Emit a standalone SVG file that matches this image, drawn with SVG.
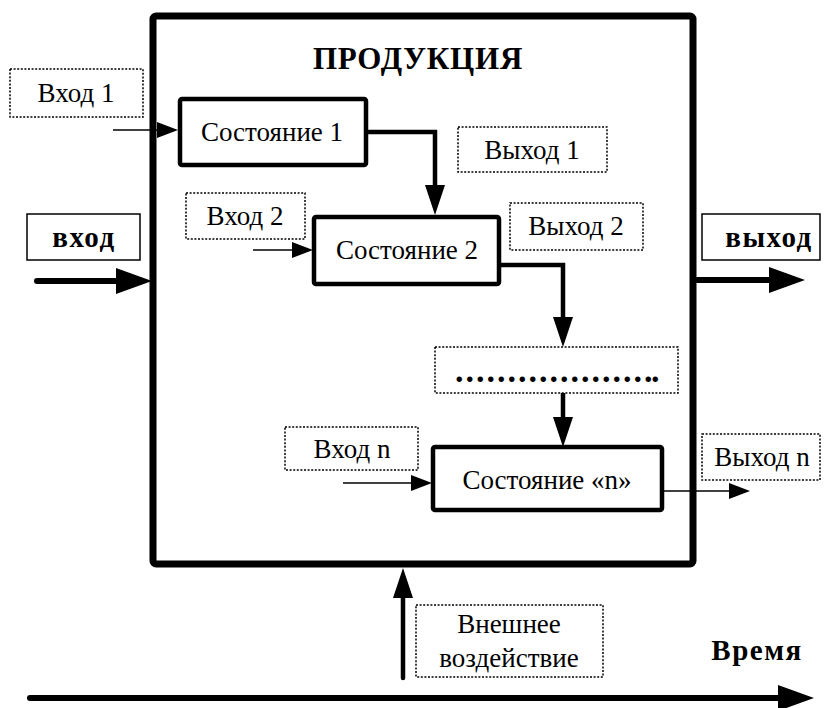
<svg xmlns="http://www.w3.org/2000/svg" width="824" height="708" viewBox="0 0 824 708">
  <style>
    text { font-family: 'Liberation Serif', 'Times New Roman', Tinos, 'DejaVu Serif', serif; font-size: 27px; fill: #000; text-anchor: middle; }
    .bold { font-weight: bold; font-size: 29px; letter-spacing: 1.5px; }
    .dotted { fill: #fff; stroke: #000; stroke-width: 1.5; stroke-dasharray: 2 1.6; }
    .solid { fill: #fff; stroke: #000; stroke-width: 1.5; }
    .state { fill: #fff; stroke: #000; stroke-width: 4.5; }
    .thin { fill: none; stroke: #000; stroke-width: 1.6; }
    .med { fill: none; stroke: #000; stroke-width: 4.5; }
    .heavy { fill: none; stroke: #000; stroke-width: 6; stroke-linecap: round; }
  </style>
  <defs>
    <marker id="headThin" viewBox="0 -8 21 16" markerWidth="21" markerHeight="16" refX="0" refY="0" markerUnits="userSpaceOnUse" orient="auto">
      <path d="M0,-8 L21,0 L0,8 z" fill="#000"/>
    </marker>
    <marker id="headMed" viewBox="0 -10 30 20" markerWidth="30" markerHeight="20" refX="0" refY="0" markerUnits="userSpaceOnUse" orient="auto">
      <path d="M0,-10 L30,0 L0,10 z" fill="#000"/>
    </marker>
    <marker id="headBig" viewBox="0 -13 36 26" markerWidth="36" markerHeight="26" refX="0" refY="0" markerUnits="userSpaceOnUse" orient="auto">
      <path d="M0,-13 L36,0 L0,13 z" fill="#000"/>
    </marker>
  </defs>

  <rect width="824" height="708" fill="#fff"/>

  <!-- outer process frame -->
  <g id="production">
    <rect x="153" y="16" width="540" height="548" rx="3" fill="none" stroke="#000" stroke-width="7"/>
    <text class="bold" x="418" y="69" style="font-size:31px;letter-spacing:0.8px">ПРОДУКЦИЯ</text>
  </g>

  <!-- external input / output labels -->
  <g id="input-main">
    <rect class="solid" x="27" y="214" width="113" height="46"/>
    <text class="bold" x="84" y="247">вход</text>
  </g>
  <g id="output-main">
    <rect class="solid" x="702" y="214" width="118" height="46"/>
    <text class="bold" x="769" y="247">выход</text>
  </g>

  <!-- states -->
  <g id="state-1">
    <rect class="state" x="180" y="99" width="186" height="66" rx="2"/>
    <text x="272" y="141">Состояние 1</text>
  </g>
  <g id="state-2">
    <rect class="state" x="314" y="217" width="185" height="67" rx="2"/>
    <text x="407" y="259">Состояние 2</text>
  </g>
  <g id="state-more">
    <rect class="dotted" x="435" y="347" width="243" height="46"/>
    <text x="455" y="382" style="font-weight:bold;font-size:34px;text-anchor:start;letter-spacing:2px">..................<tspan style="letter-spacing:-1.5px">..</tspan></text>
  </g>
  <g id="state-n">
    <rect class="state" x="433" y="447" width="229" height="63" rx="2"/>
    <text x="547" y="489">Состояние «n»</text>
  </g>

  <!-- per-state inputs and outputs -->
  <g id="in-1">
    <rect class="dotted" x="10" y="69" width="133" height="48"/>
    <text x="76" y="102">Вход 1</text>
  </g>
  <g id="out-1">
    <rect class="dotted" x="458" y="127" width="149" height="45"/>
    <text x="532" y="159">Выход 1</text>
  </g>
  <g id="in-2">
    <rect class="dotted" x="186" y="193" width="119" height="46"/>
    <text x="245" y="225">Вход 2</text>
  </g>
  <g id="out-2">
    <rect class="dotted" x="510" y="203" width="133" height="47"/>
    <text x="576" y="235">Выход 2</text>
  </g>
  <g id="in-n">
    <rect class="dotted" x="285" y="427" width="133" height="43"/>
    <text x="352" y="458">Вход n</text>
  </g>
  <g id="out-n">
    <rect class="dotted" x="702" y="434" width="118" height="46"/>
    <text x="762" y="466">Выход n</text>
  </g>

  <!-- external influence and time axis -->
  <g id="influence">
    <rect class="dotted" x="416" y="605" width="187" height="72"/>
    <text x="509" y="633">Внешнее</text>
    <text x="509" y="667">воздействие</text>
  </g>
  <g id="time">
    <text class="bold" x="757" y="660">Время</text>
  </g>

  <!-- connectors -->
  <g id="connectors">
    <path class="med" d="M366 132 H435 V185" marker-end="url(#headMed)"/>
    <path class="med" d="M499 265 H563 V317" marker-end="url(#headMed)"/>
    <path class="med" d="M563 393 V417" marker-end="url(#headMed)"/>

    <path class="thin" d="M113 130 H157" marker-end="url(#headThin)"/>
    <path class="thin" d="M253 250 H292" marker-end="url(#headThin)"/>
    <path class="thin" d="M343 483 H411" marker-end="url(#headThin)"/>
    <path class="thin" d="M662 491 H729" marker-end="url(#headThin)"/>

    <path class="heavy" d="M37 281 H116" marker-end="url(#headBig)"/>
    <path class="heavy" d="M693 280 H769" marker-end="url(#headBig)" style="stroke-linecap:butt"/>
    <path class="med" d="M403 678 V598" marker-end="url(#headMed)" style="stroke-linecap:round"/>
    <path class="heavy" d="M30 698 H778" marker-end="url(#headBig)"/>
  </g>
</svg>
